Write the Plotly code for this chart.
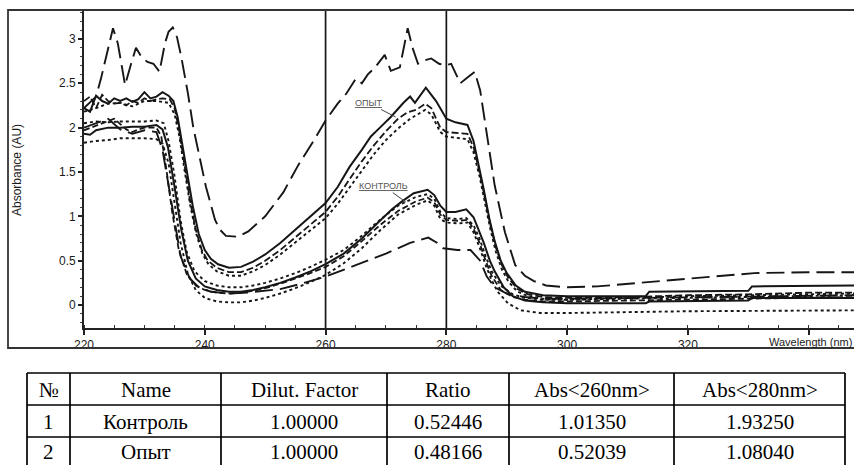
import plotly.graph_objects as go

W, H = 854, 465

# ---------------- spectra data (wavelength nm, absorbance AU) ----------------
LD_TOP = [(220, 2.22), (221, 2.28), (222, 2.35), (222.8, 2.55), (223.8, 2.85), (224.8, 3.12), (225.6, 2.95),
          (226.8, 2.48), (227.8, 2.72), (228.6, 2.90), (229.5, 2.80), (230.5, 2.74), (231.5, 2.72), (232.5, 2.63),
          (233.4, 2.95), (234.0, 3.08), (234.7, 3.13), (235.4, 3.02), (236.1, 2.80), (237.2, 2.39), (238.1, 2.00),
          (238.9, 1.75), (240.2, 1.33), (241.7, 0.96), (242.5, 0.85), (243.5, 0.78), (245.5, 0.77), (247.2, 0.83),
          (250, 1.0), (253, 1.27), (255.5, 1.58), (258, 1.85), (260, 2.08), (262, 2.27), (263.5, 2.39), (265, 2.55),
          (266, 2.5), (267, 2.6), (268.2, 2.68), (269.8, 2.82), (270.8, 2.64), (272.3, 2.68), (273.6, 3.12),
          (274.4, 2.9), (275.3, 2.72), (276.5, 2.76), (277.5, 2.78), (278.8, 2.72), (279.8, 2.70), (280.8, 2.72),
          (282.3, 2.50), (283.6, 2.57), (284.7, 2.63), (285.6, 2.42), (286.6, 1.95), (288, 1.35), (289.7, 0.82),
          (291.4, 0.45), (293, 0.33), (294.5, 0.27), (296.5, 0.22), (300, 0.20), (305, 0.21), (310, 0.24),
          (315, 0.27), (320, 0.30), (325, 0.33), (331, 0.36), (340, 0.37), (347.5, 0.37)]

OPYT_SOLID = [(220, 2.22), (221, 2.18), (222, 2.36), (223, 2.3), (224, 2.27), (225, 2.33), (226, 2.3), (227, 2.33),
              (228, 2.29), (229, 2.32), (230, 2.4), (231, 2.33), (232, 2.35), (233, 2.4), (234, 2.36), (234.8, 2.3),
              (235.5, 2.12), (236.2, 1.85), (237, 1.5), (238, 1.12), (239, 0.8), (240, 0.62), (241, 0.52),
              (242.2, 0.46), (244, 0.42), (246, 0.43), (248, 0.49), (250, 0.57), (252.5, 0.7), (255, 0.85),
              (257.5, 0.99), (260, 1.15), (262, 1.33), (264, 1.56), (266, 1.75), (267.5, 1.9), (269, 2.0),
              (270.8, 2.12), (272.9, 2.28), (274, 2.35), (274.8, 2.28), (276.6, 2.45), (278.3, 2.3), (280, 2.1),
              (281.5, 2.06), (283.5, 2.03), (284.5, 1.85), (285.3, 1.6), (286.2, 1.3), (287.1, 0.98), (288, 0.72),
              (289, 0.5), (290, 0.36), (291.5, 0.22), (293, 0.15), (296, 0.11), (300, 0.1), (313, 0.1),
              (313.6, 0.15), (330, 0.16), (330.6, 0.21), (347.5, 0.22)]

OPYT_DASH = [(220, 2.3), (221, 2.35), (222, 2.22), (223, 2.37), (224, 2.3), (225, 2.27), (226, 2.28), (227, 2.25),
             (228, 2.3), (229, 2.28), (230, 2.33), (231, 2.3), (232, 2.32), (233, 2.33), (234.2, 2.32), (235, 2.22),
             (235.8, 1.95), (236.6, 1.6), (237.5, 1.2), (238.5, 0.85), (239.5, 0.62), (240.5, 0.5), (242, 0.42),
             (244, 0.37), (246, 0.37), (248, 0.42), (250, 0.5), (252.5, 0.62), (255, 0.76), (257.5, 0.9),
             (260, 1.05), (262, 1.22), (264, 1.42), (266, 1.62), (268, 1.8), (270, 1.96), (272, 2.1), (273.5, 2.17),
             (275, 2.2), (276.5, 2.27), (277.5, 2.22), (279, 2.0), (280, 1.95), (282, 1.94), (283.5, 1.93),
             (284.5, 1.78), (285.5, 1.5), (286.4, 1.2), (287.3, 0.9), (288.2, 0.65), (289.2, 0.45), (290.3, 0.3),
             (291.8, 0.18), (293.5, 0.12), (296, 0.09), (300, 0.08), (310, 0.09), (320, 0.11), (330, 0.12),
             (340, 0.14), (347.5, 0.14)]

OPYT_DOT = [(220, 2.18), (222, 2.22), (224, 2.27), (226, 2.28), (228, 2.24), (230, 2.3), (232, 2.3), (234, 2.28),
            (235, 2.15), (235.8, 1.9), (236.7, 1.5), (237.6, 1.12), (238.6, 0.8), (239.6, 0.58), (240.6, 0.46),
            (242, 0.38), (244, 0.33), (246, 0.33), (248, 0.38), (250, 0.45), (252.5, 0.57), (255, 0.71),
            (257.5, 0.85), (260, 0.98), (262, 1.14), (264, 1.33), (266, 1.52), (268, 1.7), (270, 1.86), (272, 1.99),
            (274, 2.1), (276.5, 2.2), (277.5, 2.15), (279, 1.95), (280, 1.9), (282, 1.88), (283.5, 1.87),
            (284.5, 1.72), (285.5, 1.45), (286.4, 1.15), (287.3, 0.85), (288.2, 0.6), (289.2, 0.4), (290.3, 0.26),
            (291.8, 0.15), (293.5, 0.1), (296, 0.07), (300, 0.06), (310, 0.08), (320, 0.1), (330, 0.11),
            (340, 0.12), (347.5, 0.13)]

KONTROL_SOLID = [(220, 1.93), (221, 1.92), (222, 1.97), (224, 2.0), (226, 2.0), (228, 2.01), (230, 2.01), (232, 2.03),
                 (233, 1.98), (233.9, 1.78), (235, 1.33), (236.1, 0.85), (237.2, 0.5), (238.5, 0.3), (240, 0.21),
                 (242, 0.17), (244, 0.15), (246, 0.15), (248, 0.17), (250, 0.2), (252.5, 0.25), (255, 0.31),
                 (257.5, 0.38), (260, 0.46), (263, 0.58), (266, 0.75), (269, 0.95), (271, 1.08), (272.5, 1.16),
                 (274.6, 1.26), (276.9, 1.30), (278, 1.24), (279, 1.12), (280, 1.05), (281.5, 1.05), (283.3, 1.08),
                 (284.5, 0.99), (285.3, 0.85), (286.2, 0.7), (287.2, 0.5), (288, 0.38), (289.5, 0.2), (291, 0.1),
                 (293, 0.05), (296, 0.03), (300, 0.02), (313, 0.02), (313.6, 0.04), (330, 0.05), (330.6, 0.08),
                 (347.5, 0.08)]

KONTROL_DOT_UP = [(220, 2.05), (222, 2.07), (224, 2.06), (226, 2.07), (228, 2.07), (230, 2.07), (232, 2.08),
                  (233.2, 2.05), (234, 1.85), (235, 1.45), (236, 0.95), (237, 0.6), (238.3, 0.38), (240, 0.27),
                  (242, 0.22), (244, 0.2), (246, 0.2), (248, 0.22), (250, 0.25), (252.5, 0.3), (255, 0.36),
                  (257.5, 0.43), (260, 0.51), (263, 0.62), (266, 0.78), (269, 0.96), (272, 1.12), (275, 1.22),
                  (276.9, 1.25), (278, 1.2), (279, 1.05), (280, 0.98), (282, 0.97), (283.3, 0.98), (284.5, 0.9),
                  (285.5, 0.75), (286.5, 0.55), (287.5, 0.38), (289, 0.22), (291, 0.12), (293, 0.08), (296, 0.06),
                  (300, 0.06), (320, 0.08), (347.5, 0.11)]

KONTROL_DOT_LOW = [(220, 1.83), (222, 1.85), (224, 1.86), (226, 1.88), (228, 1.88), (230, 1.88), (232, 1.87),
                   (233, 1.82), (234, 1.6), (235, 1.15), (236, 0.7), (237.2, 0.35), (238.5, 0.17), (240, 0.08),
                   (242, 0.04), (244, 0.03), (246, 0.03), (248, 0.05), (250, 0.08), (252.5, 0.13), (255, 0.19),
                   (257.5, 0.26), (260, 0.34), (263, 0.47), (266, 0.64), (269, 0.84), (272, 1.02), (275, 1.13),
                   (276.9, 1.18), (278, 1.12), (279, 0.97), (280, 0.93), (282, 0.92), (283.5, 0.93), (284.5, 0.82),
                   (285.5, 0.65), (286.5, 0.45), (287.5, 0.28), (288.5, 0.15), (290.2, 0.02), (292.3, -0.06),
                   (295.6, -0.09), (300, -0.09), (320, -0.07), (347.5, -0.06)]

KONTROL_DASH = [(220, 1.97), (222, 2.02), (224, 2.07), (225, 2.1), (226, 2.04), (227, 1.98), (228, 1.95), (229, 1.98),
                (230, 2.0), (232, 2.0), (232.8, 1.9), (233.6, 1.55), (234.6, 1.05), (235.7, 0.62), (237, 0.35),
                (238.5, 0.22), (240, 0.17), (242, 0.14), (244, 0.13), (246, 0.14), (248, 0.16), (250, 0.19),
                (252.5, 0.24), (255, 0.3), (257.5, 0.36), (260, 0.43), (263, 0.55), (266, 0.72), (269, 0.9),
                (272, 1.06), (275, 1.17), (276.9, 1.21), (278, 1.16), (279, 1.02), (280, 0.96), (282, 0.95),
                (283.5, 0.96), (284.5, 0.86), (285.5, 0.7), (286.5, 0.5), (287.5, 0.33), (289, 0.17), (291, 0.09),
                (293, 0.06), (296, 0.04), (300, 0.04), (320, 0.06), (347.5, 0.09)]

LD_LOW = [(220, 2.0), (222, 2.05), (224, 2.1), (226, 1.98), (228, 1.93), (230, 1.97), (232, 1.95), (233, 1.75),
          (234, 1.35), (235, 0.9), (236, 0.55), (237.5, 0.3), (239, 0.2), (241, 0.15), (244, 0.13), (247, 0.14),
          (250, 0.16), (252.5, 0.18), (256, 0.24), (260, 0.32), (265, 0.45), (270, 0.58), (274, 0.7), (277, 0.76),
          (278.5, 0.7), (279.5, 0.64), (281.8, 0.62), (284, 0.62), (285.6, 0.5), (286.7, 0.32), (288, 0.2),
          (290, 0.13), (293, 0.09), (296, 0.07), (300, 0.07), (320, 0.09), (347.5, 0.11)]

X_TICKS = [220, 240, 260, 280, 300, 320, 340]
X_TICK_TEXT = ["220", "240", "260", "280", "300", "320", ""]
Y_TICKS = [0, 0.5, 1, 1.5, 2, 2.5, 3]
Y_TICK_TEXT = ["0", "0.5", "1", "1.5", "2", "2.5", "3"]
MARK_WAVELENGTHS = [260, 280]

# ---------------- table data ----------------
TABLE_HEADER = ["№", "Name", "Dilut. Factor", "Ratio", "Abs&lt;260nm&gt;", "Abs&lt;280nm&gt;"]
TABLE_ROWS = [
    ["1", "Контроль", "1.00000", "0.52446", "1.01350", "1.93250"],
    ["2", "Опыт", "1.00000", "0.48166", "0.52039", "1.08040"],
]

# ---------------- layout helpers ----------------
def fx(px):
    return px / W

def fy(py):
    return 1 - py / H

INK = "#161616"

series = [
    (LD_TOP, "18px,7px", 1.9),
    (OPYT_SOLID, "solid", 2.0),
    (OPYT_DASH, "7px,3px", 1.8),
    (OPYT_DOT, "3px,3px", 1.9),
    (KONTROL_SOLID, "solid", 2.0),
    (KONTROL_DOT_UP, "3px,3px", 1.9),
    (KONTROL_DOT_LOW, "3px,3px", 1.9),
    (KONTROL_DASH, "6px,3px", 1.8),
    (LD_LOW, "18px,7px", 1.9),
]

fig = go.Figure()
for pts, dash, w in series:
    fig.add_trace(go.Scatter(
        x=[p[0] for p in pts], y=[p[1] for p in pts], mode="lines",
        line=dict(color=INK, width=w, dash=dash), showlegend=False, hoverinfo="skip"))

shapes = []
for wl in MARK_WAVELENGTHS:
    shapes.append(dict(type="line", xref="x", yref="y domain", x0=wl, x1=wl, y0=0, y1=1,
                       line=dict(color=INK, width=1.7)))

# outer frame
shapes.append(dict(type="rect", xref="paper", yref="paper", x0=fx(8), x1=fx(900), y0=fy(348), y1=fy(10),
                   line=dict(color="#333", width=1.8), layer="above"))

# table grid
col_edges = [27, 70, 221, 387, 509, 674, 845]
row_edges = [373, 405, 437, 469]
for cx in col_edges:
    shapes.append(dict(type="line", xref="paper", yref="paper", x0=fx(cx), x1=fx(cx),
                       y0=fy(row_edges[0]), y1=fy(row_edges[-1]), line=dict(color="black", width=1.7)))
for ry in row_edges:
    shapes.append(dict(type="line", xref="paper", yref="paper", x0=fx(col_edges[0]), x1=fx(col_edges[-1]),
                       y0=fy(ry), y1=fy(ry), line=dict(color="black", width=1.7)))

annotations = []
tfont = dict(family="Liberation Serif, Times New Roman, serif", size=21, color="black")
all_rows = [TABLE_HEADER] + TABLE_ROWS
row_centers = [389.5, 421.5, 452]
for r, row in enumerate(all_rows):
    for c, txt in enumerate(row):
        cx = (col_edges[c] + col_edges[c + 1]) / 2
        annotations.append(dict(x=fx(cx), y=fy(row_centers[r]), xref="paper", yref="paper", text=txt,
                                showarrow=False, font=tfont, xanchor="center", yanchor="middle"))

afont = dict(family="Liberation Sans, Arial, sans-serif", size=12, color="#1a1a1a")
annotations.append(dict(x=fx(17), y=fy(170), xref="paper", yref="paper", text="Absorbance (AU)",
                        textangle=-90, showarrow=False, font=afont, xanchor="center", yanchor="middle"))
annotations.append(dict(x=fx(767), y=fy(342), xref="paper", yref="paper", text="Wavelength (nm)",
                        xanchor="left", yanchor="middle", showarrow=False,
                        font=dict(family="Liberation Sans, Arial, sans-serif", size=11, color="#1a1a1a")))

lfont = dict(family="Liberation Sans, Arial, sans-serif", size=9, color="#555")
annotations.append(dict(x=271.6, y=2.12, xref="x", yref="y", text="<u>ОПЫТ</u>", font=lfont,
                        showarrow=True, arrowhead=0, arrowwidth=1, arrowcolor="#444", ax=-27, ay=-14))
annotations.append(dict(x=273.3, y=1.16, xref="x", yref="y", text="<u>КОНТРОЛЬ</u>", font=lfont,
                        showarrow=True, arrowhead=0, arrowwidth=1, arrowcolor="#444", ax=-22, ay=-16))

tickfont = dict(family="Liberation Sans, Arial, sans-serif", size=12, color="#1a1a1a")
fig.update_layout(
    width=W, height=H, margin=dict(l=0, r=0, t=0, b=0, pad=0, autoexpand=False),
    autosize=False,
    paper_bgcolor="white", plot_bgcolor="white",
    shapes=shapes, annotations=annotations,
    xaxis=dict(domain=[fx(84), 1], range=[220, 347.5], showgrid=False, zeroline=False, automargin=False,
               showline=True, linecolor="#222", linewidth=1.7,
               tickmode="array", tickvals=X_TICKS, ticktext=X_TICK_TEXT,
               ticks="outside", ticklen=5, tickcolor="#222", tickwidth=1.5, tickfont=tickfont,
               minor=dict(dtick=5, ticks="inside", ticklen=3, tickcolor="#333", tickwidth=1.3)),
    yaxis=dict(domain=[fy(328), fy(11)], range=[-0.259, 3.315], showgrid=False, zeroline=False, automargin=False,
               showline=True, linecolor="#222", linewidth=1.7,
               tickmode="array", tickvals=Y_TICKS, ticktext=Y_TICK_TEXT,
               ticks="outside", ticklen=4, tickcolor="#222", tickwidth=1.5, tickfont=tickfont,
               minor=dict(dtick=0.1, ticks="outside", ticklen=2, tickcolor="#444", tickwidth=1)),
)

fig.write_html(
    "out.html",
    config={"displayModeBar": False, "responsive": False},
    post_script="document.documentElement.style.margin='0';document.body.style.margin='0';"
                "document.body.style.padding='0';document.body.style.overflow='hidden';",
)
